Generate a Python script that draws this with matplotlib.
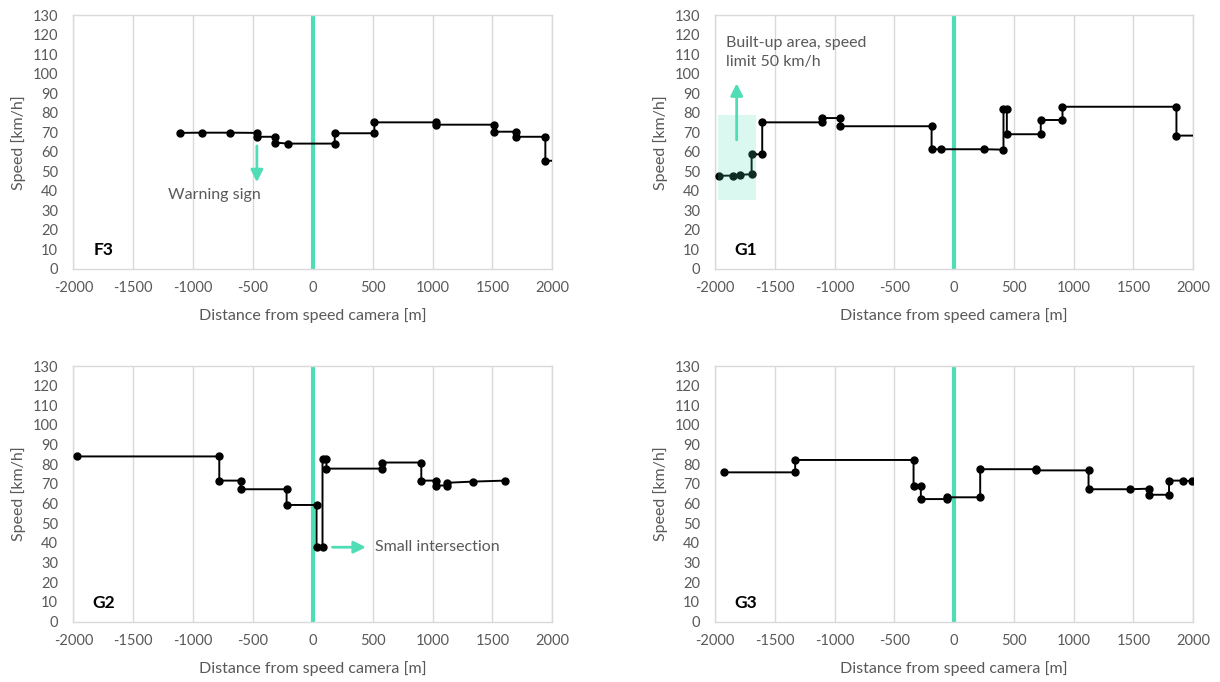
import matplotlib.pyplot as plt
from matplotlib.patches import Rectangle

plt.rcParams['font.family'] = ['Lato', 'DejaVu Sans']
plt.rcParams['axes.unicode_minus'] = False

# distance from speed camera [m] and speed [km/h] for each site
f3_dist = [-1108, -928, -690, -467, -467, -314, -314, -206, 183, 183, 514, 514,
           1031, 1031, 1511, 1511, 1700, 1700, 1942, 1942, 2100]
f3_speed = [69.8, 69.9, 69.9, 69.8, 67.8, 67.8, 64.8, 64.3, 64.3, 69.6, 69.6, 75.2,
            75.2, 74.0, 74.0, 70.4, 70.4, 67.8, 67.8, 55.5, 55.5]

g1_dist = [-1972, -1855, -1791, -1696, -1696, -1607, -1607, -1107, -1107, -954, -954,
           -189, -189, -111, 251, 413, 413, 441, 441, 725, 725, 907, 907, 1861, 1861, 2100]
g1_speed = [47.8, 47.9, 48.3, 48.6, 58.8, 58.8, 75.2, 75.2, 77.4, 77.4, 73.2,
            73.2, 61.4, 61.4, 61.4, 61.2, 82.2, 82.2, 69.1, 69.1, 76.4, 76.4, 83.2, 83.2, 68.4, 68.4]

g2_dist = [-1969, -781, -781, -603, -603, -219, -219, 31, 31, 81, 81, 114, 114,
           581, 581, 906, 906, 1031, 1031, 1122, 1122, 1339, 1608]
g2_speed = [84.0, 84.0, 71.7, 71.7, 67.3, 67.3, 59.3, 59.3, 37.8, 37.8, 82.6, 82.6, 77.8,
            77.8, 80.9, 80.9, 71.7, 71.7, 69.2, 69.2, 70.6, 71.2, 71.7]

g3_dist = [-1925, -1331, -1331, -340, -340, -279, -279, -64, -64, 218, 218, 684, 684,
           1125, 1125, 1471, 1632, 1632, 1799, 1799, 1916, 1995]
g3_speed = [75.9, 75.9, 82.2, 82.2, 69.1, 69.1, 62.3, 62.3, 63.2, 63.2, 77.5, 77.5, 76.9,
            76.9, 67.3, 67.3, 67.6, 64.5, 64.5, 71.7, 71.7, 71.4]

panels = [('F3', f3_dist, f3_speed), ('G1', g1_dist, g1_speed),
          ('G2', g2_dist, g2_speed), ('G3', g3_dist, g3_speed)]

green = '#4FDDB5'
grey_txt = '#595959'
grid_col = '#D9D9D9'

fig = plt.figure(figsize=(12.2, 6.82), dpi=100)
pos = [[0.0601, 0.6056, 0.3926, 0.3717], [0.5863, 0.6056, 0.3916, 0.3717],
       [0.0601, 0.0887, 0.3926, 0.3746], [0.5863, 0.0887, 0.3916, 0.3746]]
axes = []
for p, (name, d, s) in zip(pos, panels):
    ax = fig.add_axes(p)
    ax.set_xlim(-2000, 2000)
    ax.set_ylim(0, 130)
    ax.set_xticks(range(-2000, 2001, 500))
    ax.set_yticks(range(0, 131, 10))
    ax.grid(axis='x', color=grid_col, lw=1)
    ax.set_axisbelow(True)
    for sp in ax.spines.values():
        sp.set_color(grid_col)
        sp.set_linewidth(1)
    ax.tick_params(length=0, labelsize=10.5, labelcolor=grey_txt)
    ax.tick_params(axis='x', pad=9)
    ax.tick_params(axis='y', pad=11)
    ax.axvline(0, color=green, lw=3, zorder=2)
    ax.plot(d, s, color='black', lw=1.4, marker='o', ms=5, zorder=3, clip_on=True)
    ax.set_xlabel('Distance from speed camera [m]', fontsize=11.5, color=grey_txt)
    ax.set_ylabel('Speed [km/h]', fontsize=11.5, color=grey_txt)
    ax.xaxis.set_label_coords(0.5, -0.155)
    ax.yaxis.set_label_coords(-0.098, 0.5)
    ax.text(-1745, 9.5, name, fontsize=12.5, fontweight='bold', ha='center', va='center')
    axes.append(ax)

ax1, ax2, ax3, ax4 = axes
arrow = dict(arrowstyle='-|>', color=green, lw=2, mutation_scale=18, shrinkA=0, shrinkB=0)

# F3 annotation
ax1.annotate('', xy=(-467, 44.5), xytext=(-467, 63.1), arrowprops=arrow)
ax1.text(-825, 38, 'Warning sign', fontsize=11.5, color=grey_txt, ha='center', va='center')

# G1 annotation
ax2.add_patch(Rectangle((-1975, 35.5), 313, 43.5, facecolor=green, alpha=0.2,
                        edgecolor='none', zorder=4))
ax2.annotate('', xy=(-1821, 95.2), xytext=(-1821, 66.2), arrowprops=arrow)
ax2.text(-1910, 119.5, 'Built-up area, speed\nlimit 50 km/h', fontsize=11.5, color=grey_txt,
         ha='left', va='top', linespacing=1.45)

# G2 annotation
ax3.annotate('', xy=(443, 37.8), xytext=(164, 37.8), arrowprops=arrow)
ax3.text(517, 37.8, 'Small intersection', fontsize=11.5, color=grey_txt, ha='left', va='center')

fig.savefig('out.png')
